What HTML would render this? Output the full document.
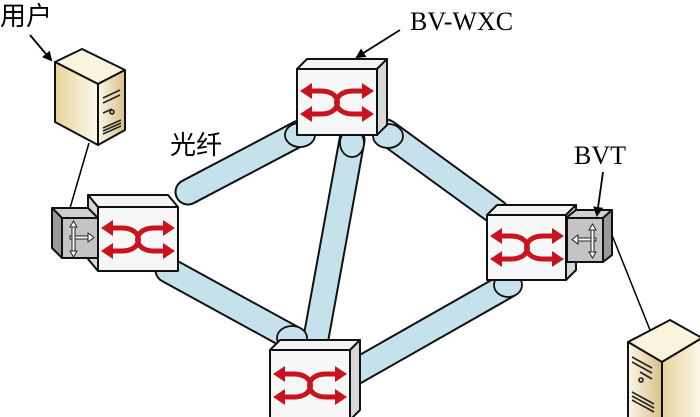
<!DOCTYPE html>
<html><head><meta charset="utf-8"><style>
html,body{margin:0;padding:0;background:#fff;}
svg{display:block}
</style></head><body>
<svg width="700" height="417" viewBox="0 0 700 417" xmlns="http://www.w3.org/2000/svg">
<defs>
<linearGradient id="srvL" x1="0" x2="1" y1="0" y2="0"><stop offset="0" stop-color="#e8d39a"/><stop offset="1" stop-color="#fdf9ee"/></linearGradient>
<linearGradient id="srvR" x1="0" x2="1" y1="0" y2="0"><stop offset="0" stop-color="#fbf6e6"/><stop offset="1" stop-color="#d9c08a"/></linearGradient>
<marker id="ah" markerWidth="10" markerHeight="10" refX="8" refY="5" orient="auto" markerUnits="userSpaceOnUse"><path d="M0,0 L10,5 L0,10 Z" fill="#000"/></marker>
<g id="xarr">
<path d="M12,22 H24 C46,22 46,45 24,45 H12 M68,22 H56 C34,22 34,45 56,45 H68" fill="none" stroke="#c8141e" stroke-width="5"/>
<path d="M3,22 L15,14 L15,30 Z M3,45 L15,37 L15,53 Z M77,22 L65,14 L65,30 Z M77,45 L65,37 L65,53 Z" fill="#c8141e"/>
</g>
</defs>

<!-- tubes -->
<g stroke-linecap="round" fill="none">
<g stroke="#111" stroke-width="27">
<line x1="188" y1="192" x2="300" y2="133"/>
<line x1="352" y1="140" x2="316" y2="338"/>
<line x1="386" y1="132" x2="496" y2="212"/>
<line x1="168" y1="270" x2="292" y2="338"/>
<line x1="355" y1="372" x2="508" y2="285"/>
</g>
<g stroke="#c5e2ec" stroke-width="23">
<line x1="188" y1="192" x2="300" y2="133"/>
<line x1="352" y1="140" x2="316" y2="338"/>
<line x1="386" y1="132" x2="496" y2="212"/>
<line x1="168" y1="270" x2="292" y2="338"/>
<line x1="355" y1="372" x2="508" y2="285"/>
</g>
</g>
<g fill="#c5e2ec" stroke="#111" stroke-width="1.8">
<ellipse cx="300" cy="135" rx="15" ry="12"/>
<ellipse cx="352" cy="143" rx="12" ry="14"/>
<ellipse cx="388" cy="136" rx="15" ry="12"/>
<ellipse cx="292" cy="338" rx="15" ry="12"/>
<ellipse cx="508" cy="285" rx="14" ry="12"/>
</g>

<!-- cables -->
<line x1="89" y1="143" x2="70" y2="208" stroke="#000" stroke-width="1.5"/>
<line x1="612" y1="235" x2="650" y2="330" stroke="#000" stroke-width="1.5"/>

<!-- top switch -->
<g stroke="#111" stroke-width="2" stroke-linejoin="round">
<polygon points="297,69 307,59 387,59 377,69" fill="#f4f4f4"/>
<polygon points="377,69 387,59 387,125 377,135" fill="#d8d8d8"/>
<rect x="297" y="69" width="80" height="66" fill="#f7f7f7"/>
</g>
<use href="#xarr" x="297" y="69"/>

<!-- bottom switch -->
<g stroke="#111" stroke-width="2" stroke-linejoin="round">
<polygon points="270,350 280,340 360,340 350,350" fill="#f4f4f4"/>
<polygon points="350,350 360,340 360,410 350,420" fill="#d8d8d8"/>
<rect x="270" y="350" width="80" height="70" fill="#f7f7f7"/>
</g>
<use href="#xarr" x="270" y="352"/>

<!-- left switch -->
<g stroke="#111" stroke-width="2" stroke-linejoin="round">
<polygon points="88,195 168,195 178,207 98,207" fill="#f4f4f4"/>
<polygon points="88,195 98,207 98,271 88,259" fill="#d8d8d8"/>
<rect x="98" y="207" width="80" height="64" fill="#f7f7f7"/>
<polygon points="52,208 88,208 98,218 62,218" fill="#d0d0d0"/>
<polygon points="52,208 62,218 62,258 52,248" fill="#9a9a9a"/>
<rect x="62" y="218" width="36" height="40" fill="#c4c4c4"/>
</g>
<use href="#xarr" x="98" y="206"/>
<g stroke="#222" stroke-width="1" fill="#fff">
<rect x="70" y="236" width="18" height="3"/>
<path d="M88,233 L94,237.5 L88,242 Z"/>
<rect x="72" y="225" width="3" height="28"/>
<path d="M73.5,221 L70,227 L77,227 Z M73.5,257 L70,251 L77,251 Z"/>
</g>

<!-- right switch -->
<g stroke="#111" stroke-width="2" stroke-linejoin="round">
<polygon points="487,215 497,205 576,205 566,215" fill="#f4f4f4"/>
<polygon points="566,215 576,205 576,270 566,280" fill="#d8d8d8"/>
<rect x="487" y="215" width="79" height="65" fill="#f7f7f7"/>
<polygon points="566,218 603,218 612,210 576,210" fill="#d0d0d0"/>
<polygon points="603,218 612,210 612,255 603,262" fill="#9a9a9a"/>
<rect x="567" y="218" width="36" height="44" fill="#c4c4c4"/>
</g>
<use href="#xarr" x="487" y="214"/>
<g stroke="#222" stroke-width="1" fill="#fff">
<rect x="578" y="238" width="18" height="3"/>
<path d="M578,235 L572,239.5 L578,244 Z"/>
<rect x="591" y="228" width="3" height="26"/>
<path d="M592.5,224 L589,230 L596,230 Z M592.5,258 L589,252 L596,252 Z"/>
</g>

<!-- server top-left -->
<g stroke="#111" stroke-width="2" stroke-linejoin="round">
<polygon points="55,62 82,49 125,70 98,84" fill="#faf4df"/>
<polygon points="55,62 98,84 98,145 55,122" fill="url(#srvL)"/>
<polygon points="98,84 125,70 125,130 98,145" fill="url(#srvR)"/>
</g>
<g stroke="#222" stroke-width="1.6" fill="none">
<path d="M103,98 L120,90 M103,103 L120,95 M103,113 L112,109"/>
<circle cx="112" cy="112" r="2"/>
<path d="M103,128 L121,120 M103,131 L121,123 M103,134 L121,126"/>
</g>

<!-- server bottom-right -->
<g stroke="#111" stroke-width="2" stroke-linejoin="round">
<polygon points="628,342 670,320 702,338 662,362" fill="#faf4df"/>
<polygon points="628,342 662,362 662,420 628,420" fill="url(#srvR)"/>
<polygon points="662,362 702,338 702,420 662,420" fill="url(#srvL)"/>
</g>
<g stroke="#222" stroke-width="1.6" fill="none">
<path d="M632,357 L652,368 M632,362 L652,373 M640,372 L652,379"/>
<circle cx="641" cy="380" r="2"/>
<path d="M632,392 L654,404 M632,396 L654,408 M632,400 L654,412"/>
</g>

<!-- labels -->
<text x="0" y="25" font-family="'Liberation Sans','Noto Sans CJK SC',sans-serif" font-size="26">用户</text>
<line x1="30" y1="35" x2="51" y2="60" stroke="#000" stroke-width="1.8" marker-end="url(#ah)"/>
<text x="170" y="154" font-family="'Liberation Sans','Noto Sans CJK SC',sans-serif" font-size="26">光纤</text>
<text x="410" y="30" font-family="'Liberation Serif',serif" font-size="26">BV-WXC</text>
<line x1="400" y1="30" x2="357" y2="57" stroke="#000" stroke-width="1.8" marker-end="url(#ah)"/>
<text x="574" y="164" font-family="'Liberation Serif',serif" font-size="26">BVT</text>
<line x1="603" y1="172" x2="597" y2="215" stroke="#000" stroke-width="1.8" marker-end="url(#ah)"/>
</svg>
</body></html>
